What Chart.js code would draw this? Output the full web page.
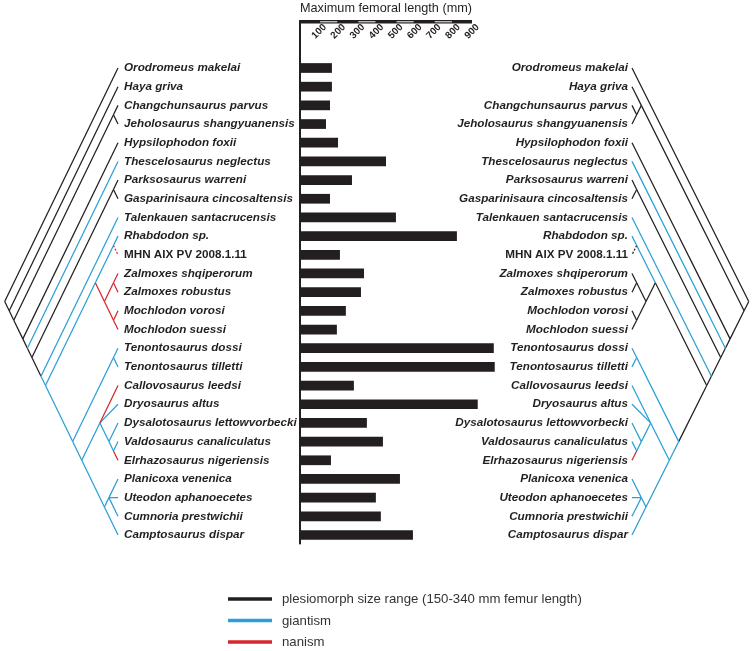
<!DOCTYPE html>
<html><head><meta charset="utf-8">
<script src="https://cdn.jsdelivr.net/npm/chart.js@4.4.1/dist/chart.umd.min.js"></script>
<style>
html,body{margin:0;padding:0;background:#fff;}
#wrap{position:relative;width:753px;height:651px;overflow:hidden;background:#fff;}
#wrap canvas{position:absolute;left:0;top:0;}
</style></head><body>
<div id="wrap">
<canvas id="leftTree" width="753" height="651"></canvas>
<canvas id="rightTree" width="753" height="651"></canvas>
<canvas id="bars" width="753" height="651"></canvas>
</div>
<script>
// ---------- data ----------
const taxa = [
  'Orodromeus makelai','Haya griva','Changchunsaurus parvus','Jeholosaurus shangyuanensis',
  'Hypsilophodon foxii','Thescelosaurus neglectus','Parksosaurus warreni','Gasparinisaura cincosaltensis',
  'Talenkauen santacrucensis','Rhabdodon sp.','MHN AIX PV 2008.1.11','Zalmoxes shqiperorum',
  'Zalmoxes robustus','Mochlodon vorosi','Mochlodon suessi','Tenontosaurus dossi',
  'Tenontosaurus tilletti','Callovosaurus leedsi','Dryosaurus altus','Dysalotosaurus lettowvorbecki',
  'Valdosaurus canaliculatus','Elrhazosaurus nigeriensis','Planicoxa venenica','Uteodon aphanoecetes',
  'Cumnoria prestwichii','Camptosaurus dispar'
];
const femurLength = [167,167,157,136,199,450,272,157,502,821,209,335,319,240,193,1014,1019,282,930,350,434,162,523,397,423,591];
const axisTicks = [100,200,300,400,500,600,700,800,900];
const axisMax = 900;
const axisTitle = 'Maximum femoral length (mm)';
const legendLabels = ['plesiomorph size range (150-340 mm femur length)','giantism','nanism'];

// tree topologies (leaf = row index in taxa)
const rhabdodontidae = [[9,10],[[11,12],[13,14]]];
const iguanodontia = [[15,16],[[17,18,[19,[20,21]]],[[22,23,24],25]]];
const leftTree = [0,[1,[[2,3],[4,[5,[[6,7],[8,[rhabdodontidae, iguanodontia]]]]]]]];
const rightTree = [0,[[1,[2,3]],[4,[5,[[6,7],[8,[rhabdodontidae, iguanodontia]]]]]]];

// branch categories (branch named by the clade it leads to)
const leftGiant = ['5','8','9-25','9-14','9-10','9','15-25','15-16','15','16','17-25','17-21','18','19-21','19','20-21','20','22-25','22-24','22','23','24','25'];
const leftDwarf = ['11-14','11-12','13-14','11','12','13','14','17','21'];
const leftDashed = ['10'];
const rightGiant = ['5','8','9-10','9','15-16','15','16','17-25','17-21','17','18','19-21','19','20-21','20','22-25','22-24','22','23','24','25'];
const rightDwarf = ['21'];
const rightDashed = ['10'];

// ---------- styling ----------
const INK = '#231f20', BLUE = '#2a9fd8', RED = '#d8262e';
const FONT = '"Liberation Sans", Arial, Helvetica, sans-serif';
Chart.defaults.font.family = FONT;
const ROW_TOP = 58.66, ROW_BOTTOM = 544.34, H = 651;
const maxDepth = (taxa.length - 1) / 2;

function treeDatasets(tree, giant, dwarf, dashed, dashColor) {
  const out = [];
  (function walk(node) {
    if (typeof node === 'number') return {lo: node, hi: node};
    const kids = node.map(walk);
    const lo = Math.min(...kids.map(k => k.lo)), hi = Math.max(...kids.map(k => k.hi));
    kids.forEach(k => {
      const key = k.lo === k.hi ? String(k.lo) : k.lo + '-' + k.hi;
      let color = INK, dash = [];
      if (giant.includes(key)) color = BLUE;
      else if (dwarf.includes(key)) color = RED;
      if (dashed.includes(key)) { color = dashColor; dash = [2, 1.6]; }
      out.push({
        data: [{x: (hi - lo) / 2, y: (lo + hi) / 2}, {x: (k.hi - k.lo) / 2, y: (k.lo + k.hi) / 2}],
        showLine: true, borderColor: color, borderWidth: 1.25, borderDash: dash,
        pointRadius: 0, pointHoverRadius: 0, clip: false, tension: 0
      });
    });
    return {lo, hi};
  })(tree);
  return out;
}

function labelFont(c) {
  const t = taxa[c.index] || '';
  return {family: FONT, size: 11.7, weight: 'bold', style: t.startsWith('MHN') ? 'normal' : 'italic'};
}

function makeTree(id, datasets, isLeft) {
  return new Chart(document.getElementById(id), {
    type: 'scatter',
    data: {datasets},
    options: {
      responsive: false, animation: false, devicePixelRatio: 1, events: [],
      layout: {padding: isLeft
        ? {left: 4.7, right: 453, top: ROW_TOP, bottom: H - ROW_BOTTOM}
        : {left: 452, right: 4.25, top: ROW_TOP, bottom: H - ROW_BOTTOM}},
      plugins: {legend: {display: false}, tooltip: {enabled: false}},
      scales: {
        x: {type: 'linear', min: 0, max: maxDepth, reverse: isLeft, display: false},
        y: {
          type: 'linear', min: -0.5, max: taxa.length - 0.5, reverse: true,
          position: isLeft ? 'right' : 'left',
          afterBuildTicks: s => { s.ticks = taxa.map((_, i) => ({value: i})); },
          afterFit: s => { s.width = isLeft ? 182 : 180; },
          grid: {display: false, drawTicks: false}, border: {display: false},
          ticks: {autoSkip: false, padding: isLeft ? 6 : 4, color: INK,
                  callback: v => taxa[v], font: labelFont}
        }
      }
    }
  });
}

makeTree('leftTree', treeDatasets(leftTree, leftGiant, leftDwarf, leftDashed, RED), true);
makeTree('rightTree', treeDatasets(rightTree, rightGiant, rightDwarf, rightDashed, INK), false);

// ---------- bar chart with scale bar and legend ----------
const decor = {
  id: 'decor',
  afterDraw(chart) {
    const {ctx, chartArea} = chart;
    const x = chart.scales.x;
    const x0 = x.getPixelForValue(0), x9 = x.getPixelForValue(axisMax);
    const barY = 20;
    ctx.save();
    ctx.fillStyle = INK;
    ctx.fillRect(x0, barY, x9 - x0, 3.5);
    ctx.fillStyle = '#ffffff';
    for (let i = 0; i + 1 < axisTicks.length; i += 2) {
      const a = x.getPixelForValue(axisTicks[i]) + 1, b = x.getPixelForValue(axisTicks[i + 1]) - 1;
      ctx.fillRect(a, barY + 1.3, b - a, 1);
    }
    ctx.fillStyle = INK;
    ctx.fillRect(x0 - 1, barY, 2, chartArea.bottom - barY);
    ctx.font = 'bold 9.8px ' + FONT;
    ctx.textAlign = 'center'; ctx.textBaseline = 'middle';
    axisTicks.forEach(v => {
      ctx.save();
      ctx.translate(x.getPixelForValue(v), 31.5);
      ctx.rotate(-Math.PI / 4);
      ctx.fillText(String(v), 0, 0);
      ctx.restore();
    });
    // legend
    const colors = [INK, BLUE, RED];
    ctx.font = '13.2px ' + FONT;
    ctx.textAlign = 'left';
    legendLabels.forEach((lab, i) => {
      const y = 599 + i * 21.5;
      ctx.strokeStyle = colors[i]; ctx.lineWidth = 3.5;
      ctx.beginPath(); ctx.moveTo(228, y); ctx.lineTo(272, y); ctx.stroke();
      ctx.fillStyle = '#333333';
      ctx.fillText(lab, 282, y + 0.5);
    });
    ctx.restore();
  }
};

new Chart(document.getElementById('bars'), {
  type: 'bar',
  data: {labels: taxa, datasets: [{data: femurLength, backgroundColor: INK, borderWidth: 0,
          barPercentage: 0.52, categoryPercentage: 1, clip: false}]},
  options: {
    indexAxis: 'y', responsive: false, animation: false, devicePixelRatio: 1, events: [],
    layout: {padding: {left: 300, right: 281, top: 0, bottom: H - ROW_BOTTOM}},
    plugins: {
      legend: {display: false}, tooltip: {enabled: false},
      title: {display: true, text: axisTitle, color: INK,
              font: {family: FONT, size: 13, weight: 'normal'},
              padding: {top: 0.5, bottom: ROW_TOP - 16.1}}
    },
    scales: {
      x: {type: 'linear', min: 0, max: axisMax, display: false},
      y: {type: 'category', display: false}
    }
  },
  plugins: [decor]
});
</script>
</body></html>
